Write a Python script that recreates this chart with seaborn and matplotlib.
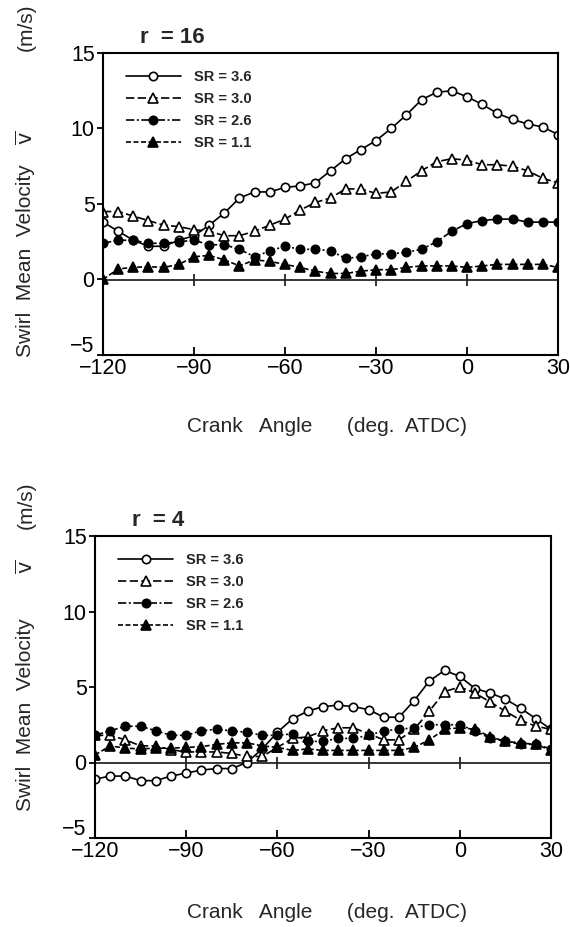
import matplotlib
matplotlib.use("Agg")
import matplotlib.pyplot as plt
from matplotlib.transforms import ScaledTranslation
import seaborn as sns
import pandas as pd

# Crank angle (deg. ATDC), sampled every 5 degrees
angles = [-120, -115, -110, -105, -100, -95, -90, -85, -80, -75, -70,
          -65, -60, -55, -50, -45, -40, -35, -30, -25, -20, -15,
          -10, -5, 0, 5, 10, 15, 20, 25, 30]

sr_labels = ["SR = 3.6", "SR = 3.0", "SR = 2.6", "SR = 1.1"]

# Swirl mean velocity (m/s) at r = 16
r16_sr36 = [3.8, 3.2, 2.6, 2.2, 2.2, 2.6, 2.9, 3.6, 4.4, 5.4, 5.8, 5.8, 6.1, 6.2, 6.4, 7.2,
            8.0, 8.6, 9.2, 10.0, 10.9, 11.9, 12.4, 12.5, 12.1, 11.6, 11.0, 10.6, 10.3, 10.1, 9.6]
r16_sr30 = [4.5, 4.5, 4.2, 3.9, 3.6, 3.5, 3.3, 3.2, 2.9, 2.9, 3.2, 3.6, 4.0, 4.6, 5.1, 5.4,
            6.0, 6.0, 5.7, 5.8, 6.5, 7.2, 7.8, 8.0, 7.9, 7.6, 7.6, 7.5, 7.2, 6.7, 6.4]
r16_sr26 = [2.4, 2.6, 2.6, 2.4, 2.4, 2.5, 2.6, 2.3, 2.3, 2.0, 1.5, 1.9, 2.2, 2.0, 2.0, 1.9,
            1.4, 1.5, 1.7, 1.7, 1.8, 2.0, 2.5, 3.2, 3.7, 3.9, 4.0, 4.0, 3.8, 3.8, 3.8]
r16_sr11 = [0.0, 0.7, 0.8, 0.85, 0.8, 1.0, 1.5, 1.6, 1.3, 0.9, 1.3, 1.2, 1.0, 0.8, 0.55, 0.4,
            0.4, 0.55, 0.65, 0.65, 0.8, 0.9, 0.9, 0.9, 0.8, 0.9, 1.0, 1.0, 1.0, 1.0, 0.8]

# Swirl mean velocity (m/s) at r = 4
r4_sr36 = [-1.1, -0.9, -0.9, -1.2, -1.2, -0.9, -0.7, -0.5, -0.4, -0.4, 0.0, 0.9, 2.0, 2.9, 3.4, 3.7,
           3.8, 3.7, 3.5, 3.0, 3.0, 4.1, 5.4, 6.1, 5.7, 4.9, 4.6, 4.2, 3.6, 2.9, 2.2]
r4_sr30 = [1.8, 1.8, 1.5, 1.1, 1.1, 0.85, 0.7, 0.7, 0.7, 0.6, 0.4, 0.4, 1.0, 1.6, 1.7, 2.1,
           2.3, 2.3, 1.9, 1.5, 1.5, 2.2, 3.4, 4.7, 5.0, 4.6, 4.0, 3.4, 2.8, 2.4, 2.2]
r4_sr26 = [1.8, 2.1, 2.4, 2.4, 2.1, 1.8, 1.8, 2.1, 2.2, 2.1, 2.0, 1.8, 1.8, 1.9, 1.4, 1.4,
           1.6, 1.6, 1.8, 2.1, 2.2, 2.3, 2.5, 2.5, 2.5, 2.1, 1.6, 1.4, 1.2, 1.2, 0.9]
r4_sr11 = [0.5, 1.1, 0.95, 0.9, 0.95, 0.95, 1.0, 1.05, 1.2, 1.3, 1.3, 1.1, 1.0, 0.8, 0.9, 0.8,
           0.8, 0.8, 0.8, 0.8, 0.8, 1.0, 1.5, 2.2, 2.3, 2.2, 1.7, 1.4, 1.3, 1.2, 0.8]

x_ticks = [-120, -90, -60, -30, 0, 30]
y_ticks = [-5, 0, 5, 10, 15]

sns.set_style("ticks")
plt.rcParams["font.family"] = ["Liberation Sans", "DejaVu Sans"]
plt.rcParams["mathtext.fontset"] = "dejavusans"

# marker, face colour, line style for each swirl ratio
styles = [
    ("o", "white", "-"),
    ("^", "white", (0, (5, 2))),
    ("o", "black", (0, (5, 1.5, 1.2, 1.5))),
    ("^", "black", (0, (3, 1.5))),
]

fig = plt.figure(figsize=(5.70, 9.27), dpi=100)
ax_top = fig.add_axes([103 / 570, 1 - 355 / 927, 455 / 570, 302 / 927])
ax_bot = fig.add_axes([95 / 570, 1 - 838 / 927, 456 / 570, 302 / 927])

panels = [
    (ax_top, "r  = 16", [r16_sr36, r16_sr30, r16_sr26, r16_sr11]),
    (ax_bot, "r  = 4", [r4_sr36, r4_sr30, r4_sr26, r4_sr11]),
]

for ax, title, series in panels:
    frames = []
    for lab, vals in zip(sr_labels, series):
        frames.append(pd.DataFrame({"angle": angles, "v": vals, "SR": lab}))
    df = pd.concat(frames, ignore_index=True)

    for lab, (mk, face, ls) in zip(sr_labels, styles):
        sub = df[df["SR"] == lab]
        sns.lineplot(data=sub, x="angle", y="v", ax=ax, color="black",
                     marker=mk, markersize=6.0 if mk == "o" else 6.8,
                     markerfacecolor=face, markeredgecolor="black",
                     markeredgewidth=1.2, linewidth=1.2, linestyle=ls,
                     label=lab, sort=False, estimator=None)

    ax.set_xlim(-120, 30)
    ax.set_ylim(-5, 15)
    ax.set_xticks(x_ticks)
    ax.set_yticks(y_ticks)
    ax.set_xlabel("")
    ax.set_ylabel("")
    for s in ax.spines.values():
        s.set_visible(True)
        s.set_linewidth(1.5)
        s.set_color("black")
    ax.tick_params(axis="x", direction="in", length=6, width=1.3,
                   labelsize=15.5, pad=2, colors="black")
    ax.tick_params(axis="y", direction="out", length=4, width=1.3,
                   labelsize=15.5, pad=2, colors="black")
    # lift the -5 label clear of the -120 label
    lbl = ax.get_yticklabels()[0]
    lbl.set_transform(lbl.get_transform() + ScaledTranslation(0, 8 / 72, fig.dpi_scale_trans))

    # zero axis with crossing ticks
    zero = ax.secondary_xaxis(0.25)
    zero.set_xticks([-90, -60, -30, 0])
    zero.tick_params(direction="inout", length=9, width=1.3, labelbottom=False)
    zero.spines["bottom"].set_linewidth(1.3)

    ax.legend(loc="upper left", bbox_to_anchor=(0.05, 0.945), frameon=False,
              handlelength=3.8, handletextpad=0.9, labelspacing=0.55,
              borderpad=0, borderaxespad=0,
              prop={"size": 10.5, "weight": "bold"})

    ax.text(0.082, 1.018, title, transform=ax.transAxes, fontsize=16,
            fontweight="bold", ha="left", va="bottom")

# axis titles
fig.text(327 / 570, 1 - 427 / 927, "Crank   Angle      (deg.  ATDC)",
         ha="center", va="center", fontsize=15)
fig.text(327 / 570, 1 - 912 / 927, "Crank   Angle      (deg.  ATDC)",
         ha="center", va="center", fontsize=15)

for y_main, y_v, y_unit in [(261, 138, 27), (715, 567, 505)]:
    fig.text(26 / 570, 1 - y_main / 927, "Swirl  Mean  Velocity", rotation=90,
             ha="center", va="center", fontsize=15)
    fig.text(26 / 570, 1 - y_v / 927, r"$\overline{\mathrm{v}}$", rotation=90,
             ha="center", va="center", fontsize=15)
    fig.text(26 / 570, 1 - y_unit / 927, "(m/s)", rotation=90,
             ha="center", va="center", fontsize=15)

fig.savefig("out.png", dpi=100)
